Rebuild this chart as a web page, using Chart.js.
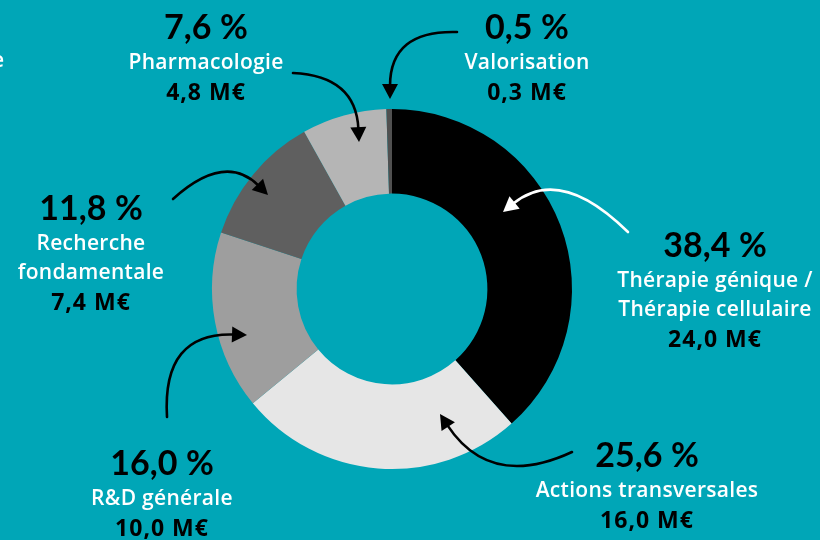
<!DOCTYPE html>
<html>
<head>
<meta charset="utf-8">
<script src="https://cdn.jsdelivr.net/npm/chart.js@4.4.1/dist/chart.umd.min.js"></script>
<style>
  html, body { margin: 0; padding: 0; background: #00A6B7; }
  #wrap { width: 820px; height: 540px; position: relative; }
</style>
</head>
<body>
<div id="wrap"><canvas id="c" width="820" height="540"></canvas></div>
<script>
// ---- Data ----
const categories = ['Thérapie génique / Thérapie cellulaire', 'Actions transversales', 'R&D générale', 'Recherche fondamentale', 'Pharmacologie', 'Valorisation'];
const labelLines = [['Thérapie génique /', 'Thérapie cellulaire'], ['Actions transversales'], ['R&D générale'], ['Recherche', 'fondamentale'], ['Pharmacologie'], ['Valorisation']];
const percentages = [38.4, 25.6, 16.0, 11.8, 7.6, 0.5];
const amounts = [24.0, 16.0, 10.0, 7.4, 4.8, 0.3];
const sliceColors = ['#000000', '#E6E6E6', '#9E9E9E', '#5F5F5F', '#B5B5B5', '#505050'];

// ---- Layout (annotation placement) ----
const BG = '#00A6B7';
const labelPos = [
  {x: 715, y: 257},  // Thérapie
  {x: 647, y: 467},  // Actions
  {x: 162, y: 475},  // R&D
  {x: 91,  y: 220},  // Recherche
  {x: 206, y: 39},   // Pharmacologie
  {x: 527, y: 39}    // Valorisation
];
// quadratic arrows: start, control, end (tip), color
const arrows = [
  {p0: [628, 232], c: [560, 165], p1: [503, 212], color: '#FFFFFF'},
  {p0: [572, 452], c: [490, 490], p1: [440, 414], color: '#000000'},
  {p0: [167, 417], c: [162, 332], p1: [247, 335], color: '#000000'},
  {p0: [173, 199], c: [225, 152], p1: [268, 195], color: '#000000'},
  {p0: [293, 73],  c: [356, 76],  p1: [359, 142], color: '#000000'},
  {p0: [457, 32],  c: [390, 30],  p1: [390, 99],  color: '#000000'}
];

const fmt = v => v.toFixed(1).replace('.', ',');
const PFONT = 'Lato, "Noto Sans", sans-serif';
const LFONT = '"Open Sans", "Noto Sans", sans-serif';

const bgPlugin = {
  id: 'bg',
  beforeDraw(chart) {
    const ctx = chart.ctx;
    ctx.save();
    ctx.fillStyle = BG;
    ctx.fillRect(0, 0, chart.width, chart.height);
    ctx.restore();
  }
};

function drawArrow(ctx, a) {
  const [x0, y0] = a.p0, [cx, cy] = a.c, [x1, y1] = a.p1;
  const ang = Math.atan2(y1 - cy, x1 - cx);
  const headLen = 15, headW = 8;
  const ex = x1 - Math.cos(ang) * (headLen - 2);
  const ey = y1 - Math.sin(ang) * (headLen - 2);
  ctx.save();
  ctx.strokeStyle = a.color;
  ctx.fillStyle = a.color;
  ctx.lineWidth = 2.6;
  ctx.lineCap = 'round';
  ctx.beginPath();
  ctx.moveTo(x0, y0);
  ctx.quadraticCurveTo(cx, cy, ex, ey);
  ctx.stroke();
  ctx.beginPath();
  ctx.moveTo(x1, y1);
  const bx = x1 - Math.cos(ang) * headLen, by = y1 - Math.sin(ang) * headLen;
  ctx.lineTo(bx + Math.cos(ang + Math.PI / 2) * headW, by + Math.sin(ang + Math.PI / 2) * headW);
  ctx.lineTo(bx - Math.cos(ang + Math.PI / 2) * headW, by - Math.sin(ang + Math.PI / 2) * headW);
  ctx.closePath();
  ctx.fill();
  ctx.restore();
}

const annotPlugin = {
  id: 'annot',
  afterDatasetsDraw(chart) {
    const ctx = chart.ctx;
    ctx.save();
    ctx.textAlign = 'center';
    ctx.textBaseline = 'alphabetic';
    categories.forEach((cat, i) => {
      const p = labelPos[i];
      let y = p.y;
      ctx.letterSpacing = '0px';
      ctx.fillStyle = '#000000';
      ctx.font = 'bold 34px ' + PFONT;
      ctx.fillText(fmt(percentages[i]) + '\u202F%', p.x, y);
      ctx.fillStyle = '#FFFFFF';
      ctx.font = '600 21px ' + LFONT;
      ctx.letterSpacing = '0.3px';
      labelLines[i].forEach(line => {
        y += 29.5;
        ctx.fillText(line, p.x, y);
      });
      y += 31;
      ctx.fillStyle = '#000000';
      ctx.font = 'bold 23px ' + LFONT;
      ctx.letterSpacing = '1px';
      ctx.fillText(fmt(amounts[i]) + ' M€', p.x, y);
    });
    ctx.letterSpacing = '0px';
    ctx.fillStyle = '#FFFFFF';
    ctx.font = '600 21px ' + LFONT;
    ctx.textAlign = 'right';
    ctx.fillText('e', 4, 67);
    ctx.restore();
    arrows.forEach(a => drawArrow(ctx, a));
  }
};

new Chart(document.getElementById('c'), {
  type: 'doughnut',
  data: {
    labels: categories,
    datasets: [{
      data: percentages,
      backgroundColor: sliceColors,
      borderWidth: 0
    }]
  },
  options: {
    responsive: false,
    animation: false,
    cutout: '53%',
    rotation: 0,
    layout: { padding: { left: 212, right: 248, top: 109, bottom: 71 } },
    plugins: { legend: { display: false }, tooltip: { enabled: false } }
  },
  plugins: [bgPlugin, annotPlugin]
});
</script>
</body>
</html>
